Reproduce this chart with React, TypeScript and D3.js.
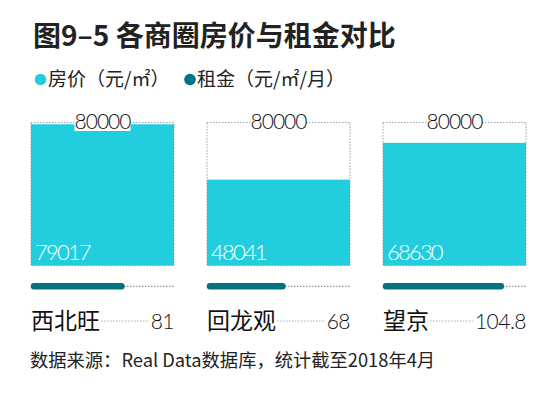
import React, { useLayoutEffect, useRef, useState } from "react";
import * as d3 from "d3";

const districts = ["西北旺", "回龙观", "望京"];
const prices = [79017, 48041, 68630];
const priceMax = 80000;
const rents = [81, 68, 104.8];
const rentLabels = ["81", "68", "104.8"];
const rentMax = 124;

const CYAN = "#22CEDE";
const TEAL = "#03737F";
const CJK = "'Noto Sans CJK SC', 'Noto Sans', sans-serif";
const NUM = "'Lato', sans-serif";

export default function App() {
  const panelW = 143;
  const panelX = d3.scaleOrdinal<string, number>().domain(districts).range([31, 207, 383]);
  const boxTop = 122.5;
  const boxBottom = 265.5;
  const y = d3.scaleLinear().domain([0, priceMax]).range([boxBottom, boxTop]);
  const rx = d3.scaleLinear().domain([0, rentMax]).range([0, panelW]);
  const rentY = 286.3;

  const labelRefs = useRef<(SVGTextElement | null)[]>([]);
  const valueRefs = useRef<(SVGTextElement | null)[]>([]);
  const [gaps, setGaps] = useState<[number, number][]>([]);
  useLayoutEffect(() => {
    const g: [number, number][] = districts.map((_, i) => {
      const a = labelRefs.current[i]?.getBBox();
      const b = valueRefs.current[i]?.getBBox();
      return a && b ? [a.x + a.width + 1, b.x - 2] : [0, 0];
    });
    setGaps(g);
  }, []);

  return (
    <svg width={550} height={398} style={{ position: "fixed", left: 0, top: 0, background: "#fff" }}>
      <text x={33} y={46} fontFamily={CJK} fontWeight={700} fontSize={28} fill="#222">
        图9–5 各商圈房价与租金对比
      </text>
      <circle cx={40.5} cy={79.5} r={5.8} fill={CYAN} />
      <text x={48} y={86} fontFamily={CJK} fontSize={19} fill="#222">房价（元/㎡）</text>
      <circle cx={190} cy={79.5} r={5.8} fill={TEAL} />
      <text x={197} y={86} fontFamily={CJK} fontSize={19} fill="#222">租金（元/㎡/月）</text>

      {districts.map((d, i) => {
        const x0 = panelX(d);
        const cx = x0 + panelW / 2;
        const gap = gaps[i];
        return (
          <g key={d}>
            <rect x={x0} y={y(prices[i])} width={panelW} height={boxBottom - y(prices[i])} fill={CYAN} />
            <rect x={x0} y={boxTop} width={panelW} height={boxBottom - boxTop} fill="none" stroke="#888" strokeWidth={0.8} strokeDasharray="1.5,1.5" />
            <rect x={cx - 28} y={113} width={56} height={18} fill="#fff" />
            <text x={cx} y={129} textAnchor="middle" fontFamily={NUM} fontWeight={300} fontSize={21} letterSpacing={-1} fill="#111">
              {d3.format("d")(priceMax)}
            </text>
            <text x={x0 + 4} y={260} fontFamily={NUM} fontWeight={300} fontSize={22} letterSpacing={-1.8} fill="#fff">
              {d3.format("d")(prices[i])}
            </text>
            <line x1={x0} x2={x0 + panelW} y1={rentY} y2={rentY} stroke="#555" strokeWidth={0.8} strokeDasharray="1.5,1.5" />
            <line x1={x0 + 3} x2={x0 + rx(rents[i]) - 3} y1={rentY} y2={rentY} stroke={TEAL} strokeWidth={6.5} strokeLinecap="round" />
            <text ref={(el) => { labelRefs.current[i] = el; }} x={x0} y={329} fontFamily={CJK} fontSize={23} fill="#111">{d}</text>
            <text ref={(el) => { valueRefs.current[i] = el; }} x={x0 + panelW} y={329} textAnchor="end" fontFamily={NUM} fontWeight={300} fontSize={21} letterSpacing={-0.5} fill="#111">{rentLabels[i]}</text>
            {gap && gap[1] > gap[0] && (
              <line x1={gap[0]} x2={gap[1]} y1={321} y2={321} stroke="#999" strokeWidth={0.8} strokeDasharray="1.5,1.5" />
            )}
          </g>
        );
      })}
      <text x={30} y={367} fontFamily={CJK} fontSize={18.3} fill="#222">
        数据来源：Real Data数据库，统计截至2018年4月
      </text>
    </svg>
  );
}
